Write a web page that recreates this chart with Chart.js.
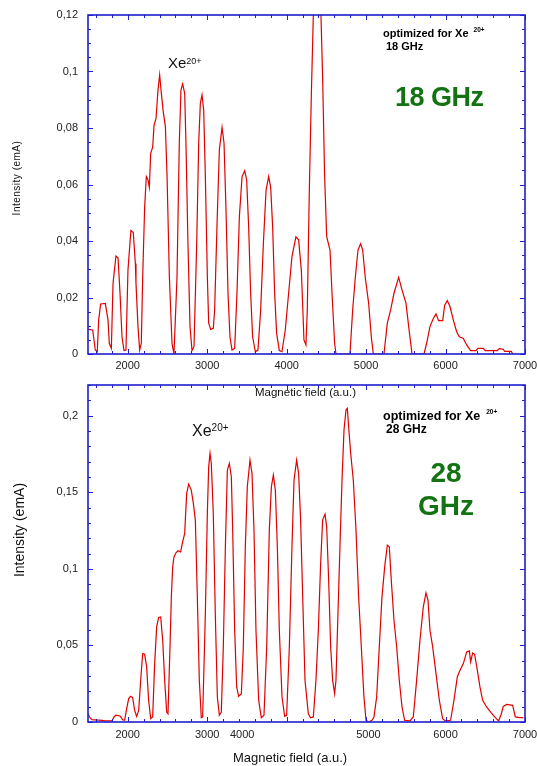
<!DOCTYPE html>
<html>
<head>
<meta charset="utf-8">
<title>Xe20+ : 18 GHz / 28 GHz</title>
<script src="https://cdn.jsdelivr.net/npm/chart.js@4.4.1/dist/chart.umd.min.js"></script>
<style>
  html, body { margin: 0; padding: 0; background: #fff; }
  #page { position: relative; width: 537px; height: 766px; overflow: hidden; font-family: "Liberation Sans", Arial, sans-serif; color: #111; }
  .panel { position: absolute; left: 0; width: 537px; height: 383px; }
  .txt { position: absolute; white-space: nowrap; line-height: 1; }
  .note { font-weight: bold; color: #000; }
  .ghz { font-weight: bold; color: #137313; }
  .sup { position: relative; }
  .ytitle { transform: translate(-50%, -50%) rotate(-90deg); }
</style>
</head>
<body>
<div id="page">
  <div class="panel" style="top:0"><canvas id="chart18"></canvas></div>
  <div class="panel" style="top:383px"><canvas id="chart28"></canvas></div>

  <!-- 18 GHz -->
  <div class="txt" style="left:168px;top:55px;font-size:15px;">Xe<span class="sup" style="font-size:9px;top:-4.5px;">20+</span></div>
  <div class="txt note" style="left:383px;top:28px;font-size:11px;">optimized for Xe<span class="sup" style="font-size:6.5px;top:-5.5px;margin-left:5px;">20+</span></div>
  <div class="txt note" style="left:386px;top:41px;font-size:11px;">18 GHz</div>
  <div class="txt ghz" style="left:395px;top:84px;font-size:27px;letter-spacing:-0.5px;">18 GHz</div>
  <div class="txt" style="left:255px;top:387px;font-size:11.5px;">Magnetic field (a.u.)</div>
  <div class="txt ytitle" style="left:16.5px;top:177.5px;font-size:10px;letter-spacing:0.5px;">Intensity (emA)</div>

  <!-- 28 GHz -->
  <div class="txt" style="left:192px;top:423px;font-size:16px;">Xe<span class="sup" style="font-size:10px;top:-5px;">20+</span></div>
  <div class="txt note" style="left:383px;top:410px;font-size:12.5px;">optimized for Xe<span class="sup" style="font-size:6.5px;top:-6.5px;margin-left:6px;">20+</span></div>
  <div class="txt note" style="left:386px;top:423px;font-size:12px;">28 GHz</div>
  <div class="txt ghz" style="left:396px;width:100px;text-align:center;top:459px;font-size:28px;">28</div>
  <div class="txt ghz" style="left:396px;width:100px;text-align:center;top:492px;font-size:28px;">GHz</div>
  <div class="txt" style="left:233px;top:751px;font-size:13px;">Magnetic field (a.u.)</div>
  <div class="txt ytitle" style="left:19px;top:529.5px;font-size:14px;">Intensity (emA)</div>
</div>

<script>
const BLUE = "#1f1fcf";
const RED = "#e00000";
const FONT = '"Liberation Sans", Arial, sans-serif';

// 18 GHz spectrum, magnetic field (a.u.) vs intensity (emA)
const field18 = [
  1500, 1559, 1592, 1617, 1634, 1659, 1718, 1752, 1768, 1794,
  1815, 1852, 1878, 1903, 1928, 1953, 1978, 2003, 2040, 2070,
  2096, 2104, 2129, 2150, 2171, 2188, 2213, 2234, 2255, 2272,
  2289, 2314, 2331, 2356, 2381, 2402, 2419, 2444, 2474, 2495,
  2524, 2557, 2582, 2620, 2649, 2670, 2691, 2717, 2733, 2758,
  2784, 2809, 2834, 2868, 2893, 2914, 2935, 2956, 2977, 3002,
  3019, 3044, 3077, 3094, 3123, 3153, 3187, 3212, 3237, 3262,
  3287, 3312, 3346, 3375, 3405, 3439, 3472, 3497, 3522, 3547,
  3572, 3606, 3639, 3673, 3707, 3741, 3774, 3799, 3824, 3849,
  3874, 3908, 3941, 3983, 4025, 4067, 4117, 4151, 4185, 4218,
  4243, 4260, 4285, 4311, 4336, 4386, 4432, 4453, 4478, 4504,
  4546, 4571, 4604, 4621, 4797, 4831, 4864, 4898, 4931, 4957,
  4990, 5032, 5066, 5091, 5225, 5267, 5309, 5351, 5410, 5452,
  5502, 5536, 5578, 5729, 5762, 5804, 5846, 5880, 5913, 5964,
  5989, 6022, 6056, 6098, 6140, 6173, 6224, 6266, 6316, 6383,
  6408, 6475, 6500, 6651, 6676, 6727, 6744, 6828, 6845
];
const current18 = [
  0.0087, 0.0085, 0.0014, 0.0008, 0.012, 0.0177, 0.0179, 0.012, 0.0038, 0.002,
  0.025, 0.0347, 0.034, 0.0215, 0.006, 0.0012, 0.0014, 0.0297, 0.0437, 0.043,
  0.032, 0.025, 0.0097, 0.0014, 0.0038, 0.027, 0.052, 0.0628, 0.0616, 0.059,
  0.071, 0.0732, 0.081, 0.0834, 0.0935, 0.0988, 0.0935, 0.0864, 0.0805, 0.0628,
  0.0274, 0.0038, 0, 0.027, 0.0746, 0.0934, 0.0956, 0.0923, 0.0746, 0.039,
  0.0097, 0.0012, 0.0026, 0.039, 0.0746, 0.0887, 0.0917, 0.0864, 0.0628, 0.0274,
  0.0109, 0.0087, 0.0091, 0.0156, 0.045, 0.0722, 0.0802, 0.0746, 0.051, 0.0215,
  0.006, 0.0014, 0.002, 0.0215, 0.0486, 0.0628, 0.0649, 0.0616, 0.045, 0.0215,
  0.006, 0.0008, 0.0014, 0.0156, 0.039, 0.058, 0.0628, 0.059, 0.045, 0.0215,
  0.0073, 0.0012, 0.0008, 0.0085, 0.0215, 0.0345, 0.0415, 0.0404, 0.0297, 0.005,
  0.0032, 0.0156, 0.057, 0.092, 0.12, 0.135, 0.12, 0.098, 0.063, 0.0415,
  0.0368, 0.0215, 0.0038, 0, 0, 0.0156, 0.027, 0.0368, 0.039, 0.0368,
  0.027, 0.018, 0.006, 0, 0, 0.0109, 0.0156, 0.0215, 0.0271, 0.0227,
  0.018, 0.0097, 0, 0, 0.0038, 0.0097, 0.0126, 0.0142, 0.0118, 0.0118,
  0.0173, 0.0189, 0.0168, 0.012, 0.0079, 0.0061, 0.0055, 0.0032, 0.0012, 0.0012,
  0.002, 0.002, 0.0012, 0.0012, 0.0019, 0.0017, 0.0009, 0.0009, 0
];

// 28 GHz spectrum
const field28 = [
  1500, 1525, 1550, 1676, 1718, 1802, 1827, 1852, 1903, 1936,
  1961, 1987, 2012, 2037, 2062, 2087, 2112, 2138, 2163, 2188,
  2213, 2238, 2263, 2289, 2314, 2339, 2364, 2389, 2415, 2440,
  2465, 2490, 2507, 2532, 2549, 2566, 2582, 2607, 2633, 2666,
  2691, 2717, 2725, 2742, 2767, 2800, 2826, 2851, 2876, 2901,
  2926, 2943, 2977, 3002, 3019, 3036, 3052, 3077, 3102, 3128,
  3153, 3178, 3203, 3229, 3254, 3279, 3304, 3321, 3346, 3371,
  3396, 3430, 3455, 3480, 3505, 3539, 3564, 3589, 3614, 3648,
  3681, 3715, 3749, 3782, 3808, 3833, 3858, 3883, 3908, 3942,
  3975, 4000, 4034, 4067, 4093, 4126, 4151, 4176, 4202, 4231,
  4273, 4302, 4336, 4369, 4399, 4428, 4453, 4483, 4504, 4529,
  4554, 4579, 4604, 4621, 4646, 4671, 4697, 4722, 4747, 4764,
  4780, 4806, 4839, 4873, 4906, 4940, 4973, 4999, 5032, 5074,
  5099, 5133, 5166, 5200, 5234, 5267, 5292, 5317, 5351, 5385,
  5418, 5452, 5485, 5552, 5594, 5636, 5678, 5720, 5754, 5779,
  5804, 5838, 5880, 5922, 5963, 5997, 6064, 6106, 6148, 6182,
  6224, 6266, 6299, 6316, 6341, 6366, 6400, 6433, 6467, 6517,
  6568, 6618, 6668, 6702, 6727, 6769, 6845, 6878, 6937, 6979
];
const current28 = [
  0.0054, 0.0028, 0.0015, 0.0011, 0.0007, 0.0007, 0.0033, 0.0044, 0.0039, 0.0015,
  0.0011, 0.0087, 0.0153, 0.0168, 0.0159, 0.0076, 0.0037, 0.0076, 0.0272, 0.0447,
  0.0442, 0.036, 0.0142, 0.0022, 0.0033, 0.0381, 0.0621, 0.0682, 0.0686, 0.0534,
  0.0272, 0.0065, 0.0054, 0.049, 0.0817, 0.1013, 0.1078, 0.1105, 0.1118, 0.1111,
  0.1176, 0.1231, 0.1318, 0.1492, 0.1553, 0.1514, 0.1427, 0.1318, 0.0817, 0.0272,
  0.0028, 0.0033, 0.0708, 0.1362, 0.1667, 0.1754, 0.1688, 0.1362, 0.0708, 0.0163,
  0.0044, 0.0065, 0.049, 0.1144, 0.1645, 0.1688, 0.1601, 0.1253, 0.0599, 0.0229,
  0.0168, 0.0185, 0.049, 0.1144, 0.1536, 0.171, 0.1623, 0.1253, 0.0599, 0.0142,
  0.0028, 0.0044, 0.049, 0.1253, 0.1536, 0.1612, 0.1514, 0.1144, 0.0599, 0.0163,
  0.0037, 0.0044, 0.049, 0.1144, 0.158, 0.171, 0.1623, 0.1318, 0.0817, 0.0272,
  0.0054, 0.0028, 0.0033, 0.0272, 0.0599, 0.1035, 0.1318, 0.1357, 0.1275, 0.0926,
  0.049, 0.0272, 0.0185, 0.0272, 0.0708, 0.1144, 0.158, 0.1906, 0.2037, 0.2048,
  0.1928, 0.1754, 0.158, 0.1253, 0.0817, 0.049, 0.0163, 0.0011, 0, 0.0011,
  0.0033, 0.0163, 0.049, 0.0817, 0.1013, 0.1155, 0.1144, 0.0926, 0.0664, 0.049,
  0.0272, 0.0098, 0.0011, 0.0007, 0.0033, 0.0272, 0.0534, 0.0752, 0.0843, 0.0795,
  0.0599, 0.049, 0.0316, 0.0142, 0.0022, 0.0007, 0.0011, 0.0142, 0.0294, 0.0338,
  0.0381, 0.0458, 0.0464, 0.0392, 0.0451, 0.0442, 0.0338, 0.0229, 0.0142, 0.0098,
  0.0065, 0.0033, 0.0007, 0.0054, 0.0102, 0.0115, 0.0109, 0.0033, 0.0028, 0.0028
];

// tick labels (the 28 GHz plot has its "4000" label printed off its tick, as in the original)
const xTicks18 = [2000, 3000, 4000, 5000, 6000, 7000];
const xLabels18 = ["2000", "3000", "4000", "5000", "6000", "7000"];
const xTicks28 = [2000, 3000, 3440, 5030, 6000, 7000];
const xLabels28 = ["2000", "3000", "4000", "5000", "6000", "7000"];
const yTicks18 = [0, 0.02, 0.04, 0.06, 0.08, 0.1, 0.12];
const yLabels18 = ["0", "0,02", "0,04", "0,06", "0,08", "0,1", "0,12"];
const yTicks28 = [0, 0.05, 0.1, 0.15, 0.2];
const yLabels28 = ["0", "0,05", "0,1", "0,15", "0,2"];

// blue box with inward ticks on all four sides
const frameTicks = {
  id: "frameTicks",
  afterDatasetsDraw(chart, args, o) {
    const { ctx, chartArea: a, scales: { x, y } } = chart;
    ctx.save();
    ctx.strokeStyle = BLUE;
    ctx.lineWidth = 1;
    ctx.beginPath();
    const k0 = Math.ceil(x.min / o.xMinor), k1 = Math.floor(x.max / o.xMinor);
    for (let k = k0; k <= k1; k++) {
      const v = k * o.xMinor;
      const len = v % o.xMajor === 0 ? 5 : 3;
      const px = Math.round(x.getPixelForValue(v)) + 0.5;
      ctx.moveTo(px, a.bottom); ctx.lineTo(px, a.bottom - len);
      ctx.moveTo(px, a.top); ctx.lineTo(px, a.top + len);
    }
    const n = Math.round((y.max - y.min) / o.yMinor);
    const every = Math.round(o.yMajor / o.yMinor);
    for (let i = 0; i <= n; i++) {
      const py = Math.round(y.getPixelForValue(y.min + i * o.yMinor)) + 0.5;
      const len = i % every === 0 ? 5 : 3;
      ctx.moveTo(a.left, py); ctx.lineTo(a.left + len, py);
      ctx.moveTo(a.right, py); ctx.lineTo(a.right - len, py);
    }
    ctx.stroke();
    ctx.lineWidth = 1.6;
    ctx.strokeRect(a.left, a.top, a.right - a.left, a.bottom - a.top);
    ctx.restore();
  },
};

function makeChart(id, c) {
  return new Chart(document.getElementById(id), {
    type: "line",
    data: {
      datasets: [{
        data: c.xs.map((x, i) => ({ x, y: c.ys[i] })),
        borderColor: RED,
        borderWidth: 1.2,
        pointRadius: 0,
        tension: 0,
        fill: false,
      }],
    },
    options: {
      responsive: true,
      maintainAspectRatio: false,
      animation: false,
      events: [],
      layout: { padding: { top: c.padTop, right: 12, left: 0, bottom: 0 } },
      scales: {
        x: {
          type: "linear",
          min: 1500, max: 7000,
          grid: { display: false, drawTicks: false },
          border: { display: false },
          afterBuildTicks: (s) => { s.ticks = c.xTicks.map((v) => ({ value: v })); },
          afterFit: (s) => { s.height = c.xAxisHeight; s.paddingLeft = 0; s.paddingRight = 0; },
          ticks: {
            autoSkip: false, maxRotation: 0, padding: c.xPad,
            color: "#222", font: { family: FONT, size: 11 },
            callback: (v, i) => c.xLabels[i],
          },
        },
        y: {
          min: 0, max: c.yMax,
          grid: { display: false, drawTicks: false },
          border: { display: false },
          afterBuildTicks: (s) => { s.ticks = c.yTicks.map((v) => ({ value: v })); },
          afterFit: (s) => { s.width = 88; s.paddingTop = 0; s.paddingBottom = 0; },
          ticks: {
            padding: 10,
            color: "#222", font: { family: FONT, size: 11 },
            callback: (v, i) => c.yLabels[i],
          },
        },
      },
      plugins: {
        legend: { display: false },
        tooltip: { enabled: false },
        frameTicks: { xMinor: 200, xMajor: 1000, yMinor: c.yMinor, yMajor: c.yMajor },
      },
    },
    plugins: [frameTicks],
  });
}

makeChart("chart18", {
  xs: field18, ys: current18, yMax: 0.12,
  xTicks: xTicks18, xLabels: xLabels18, yTicks: yTicks18, yLabels: yLabels18,
  padTop: 15, xAxisHeight: 29, xPad: 5, yMinor: 0.005, yMajor: 0.02,
});

makeChart("chart28", {
  xs: field28, ys: current28, yMax: 0.22,
  xTicks: xTicks28, xLabels: xLabels28, yTicks: yTicks28, yLabels: yLabels28,
  padTop: 2, xAxisHeight: 44, xPad: 6, yMinor: 0.01, yMajor: 0.05,
});
</script>
</body>
</html>
